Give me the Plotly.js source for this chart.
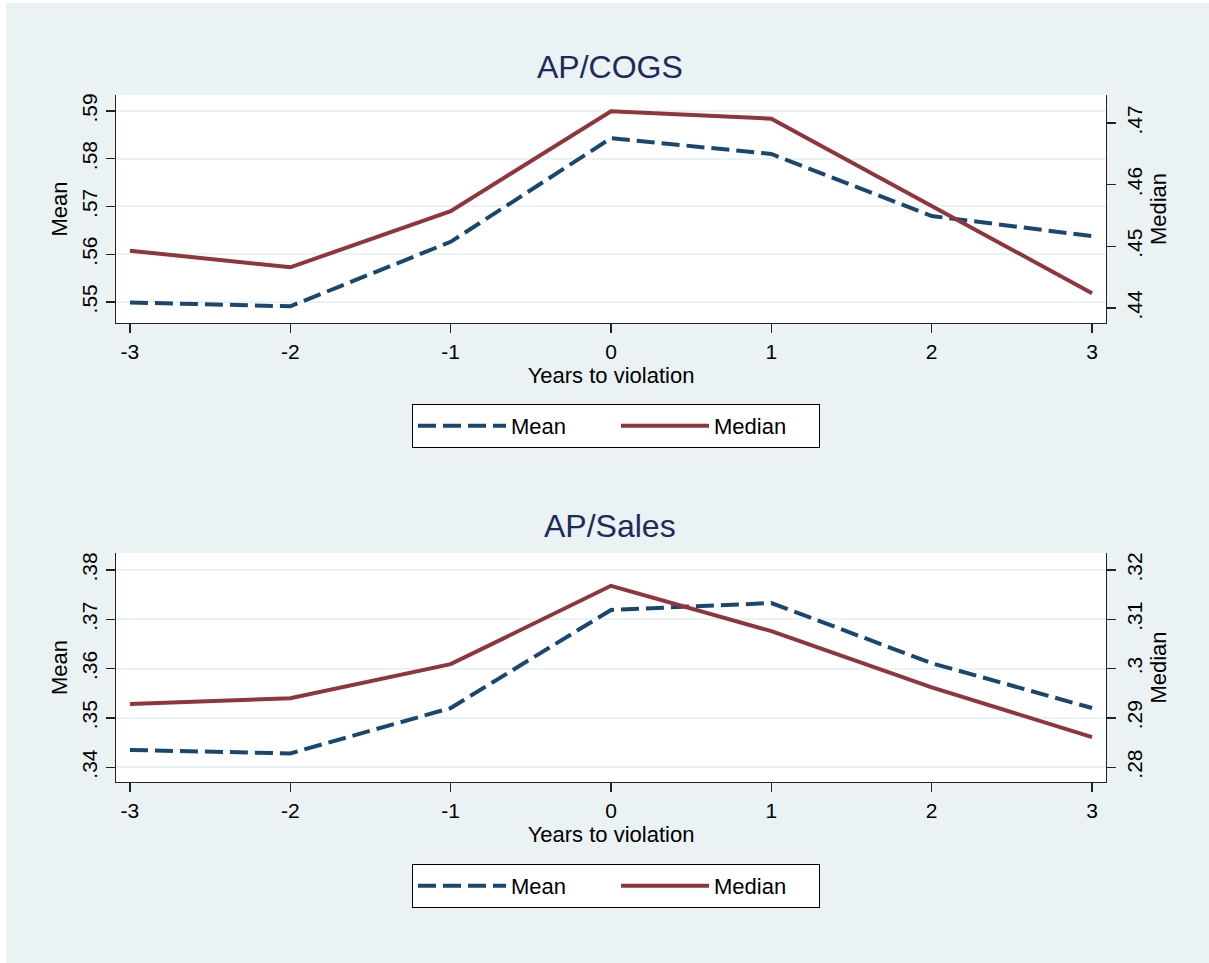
<!DOCTYPE html>
<html>
<head>
<meta charset="utf-8">
<script src="https://cdn.plot.ly/plotly-3.0.1.min.js"></script>
<style>
  html, body { margin: 0; padding: 0; background: #ffffff; }
  #chart { position: absolute; left: 6px; top: 3px; width: 1203px; height: 960px; }
</style>
</head>
<body>
<div id="chart"></div>
<script>
// ---- data ----
const years = [-3, -2, -1, 0, 1, 2, 3];
const xTickLabels = ["-3", "-2", "-1", "0", "1", "2", "3"];

const cogsMean   = [0.5499, 0.5491, 0.5626, 0.5843, 0.5810, 0.5680, 0.5638];
const cogsMedian = [0.4493, 0.4466, 0.4557, 0.4719, 0.4707, 0.4565, 0.4424];

const salesMean   = [0.3435, 0.3428, 0.3520, 0.3719, 0.3733, 0.3611, 0.3520];
const salesMedian = [0.2928, 0.2940, 0.3009, 0.3168, 0.3076, 0.2962, 0.2861];

const cogsMeanTicks = [0.55, 0.56, 0.57, 0.58, 0.59];
const cogsMeanTickLabels = [".55", ".56", ".57", ".58", ".59"];
const cogsMedianTicks = [0.44, 0.45, 0.46, 0.47];
const cogsMedianTickLabels = [".44", ".45", ".46", ".47"];
const salesMeanTicks = [0.34, 0.35, 0.36, 0.37, 0.38];
const salesMeanTickLabels = [".34", ".35", ".36", ".37", ".38"];
const salesMedianTicks = [0.28, 0.29, 0.30, 0.31, 0.32];
const salesMedianTickLabels = [".28", ".29", ".3", ".31", ".32"];

const panelTitles = ["AP/COGS", "AP/Sales"];
const xTitle = "Years to violation";
const seriesNames = ["Mean", "Median"];

// ---- styles ----
const FONT = "Liberation Sans, Arial, Helvetica, sans-serif";
const navy = "#1a476f";
const maroon = "#90353b";
const bg = "#eaf2f3";
const meanDash = "18px,7px";

function meanTrace(y, xa, ya, legend, showlegend) {
  return { x: years, y: y, xaxis: xa, yaxis: ya, type: "scatter", mode: "lines",
    name: seriesNames[0], legend: legend, showlegend: showlegend,
    line: { color: navy, width: 4, dash: meanDash } };
}
function medianTrace(y, xa, ya, legend, showlegend) {
  return { x: years, y: y, xaxis: xa, yaxis: ya, type: "scatter", mode: "lines",
    name: seriesNames[1], legend: legend, showlegend: showlegend,
    line: { color: maroon, width: 4 } };
}

const data = [
  meanTrace(cogsMean, "x", "y", "legend", true),
  medianTrace(cogsMedian, "x", "y2", "legend", true),
  meanTrace(salesMean, "x2", "y3", "legend2", true),
  medianTrace(salesMedian, "x2", "y4", "legend2", true)
];

const W = 1203, H = 960;
const xDom = [110 / W, 1100 / W];
const topDom = [(H - 320) / H, (H - 92) / H];
const botDom = [(H - 779) / H, (H - 550) / H];

function xAxis(anchor) {
  return {
    domain: xDom, anchor: anchor, range: [-3.087, 3.087],
    tickvals: years, ticktext: xTickLabels,
    ticks: "outside", ticklen: 9, tickwidth: 1.3, tickcolor: "#222",
    showline: true, linecolor: "#222", linewidth: 1.3, mirror: false,
    showgrid: false, zeroline: false,
    tickfont: { family: FONT, size: 21, color: "#000" },
    title: { text: xTitle, font: { family: FONT, size: 22, color: "#000" }, standoff: 2 },
    fixedrange: true
  };
}
function yLeft(domain, anchor, range, tv, tt) {
  return {
    domain: domain, anchor: anchor, range: range, side: "left",
    tickvals: tv, ticktext: tt, tickangle: -90,
    ticks: "outside", ticklen: 9, tickwidth: 1.3, tickcolor: "#222",
    showline: true, linecolor: "#222", linewidth: 1.3,
    showgrid: true, gridcolor: bg, gridwidth: 2, zeroline: false,
    tickfont: { family: FONT, size: 21, color: "#000" },
    title: { text: seriesNames[0], font: { family: FONT, size: 22, color: "#000" }, standoff: 4 },
    fixedrange: true
  };
}
function yRight(overlay, anchor, range, tv, tt) {
  return {
    overlaying: overlay, anchor: anchor, range: range, side: "right",
    tickvals: tv, ticktext: tt, tickangle: -90,
    ticks: "outside", ticklen: 9, tickwidth: 1.3, tickcolor: "#222",
    showline: true, linecolor: "#222", linewidth: 1.3,
    showgrid: false, zeroline: false,
    tickfont: { family: FONT, size: 21, color: "#000" },
    title: { text: seriesNames[1], font: { family: FONT, size: 22, color: "#000" }, standoff: 2 },
    fixedrange: true
  };
}

function legendCfg(yTop) {
  return {
    orientation: "h", x: 610 / W, xanchor: "center", y: yTop, yanchor: "top",
    bgcolor: "#ffffff", bordercolor: "#000", borderwidth: 1,
    font: { family: FONT, size: 22, color: "#000" },
    entrywidth: 100, itemwidth: 88, traceorder: "normal"
  };
}

const layout = {
  width: W, height: H,
  margin: { l: 0, r: 0, t: 0, b: 0 },
  paper_bgcolor: bg, plot_bgcolor: "#ffffff",
  font: { family: FONT, color: "#000" },
  xaxis: xAxis("y"),
  yaxis: yLeft(topDom, "x", [0.5456, 0.59335], cogsMeanTicks, cogsMeanTickLabels),
  yaxis2: yRight("y", "x", [0.43757, 0.47454], cogsMedianTicks, cogsMedianTickLabels),
  xaxis2: xAxis("y3"),
  yaxis3: yLeft(botDom, "x2", [0.3370, 0.38345], salesMeanTicks, salesMeanTickLabels),
  yaxis4: yRight("y3", "x2", [0.2770, 0.32345], salesMedianTicks, salesMedianTickLabels),
  legend: legendCfg((H - 401) / H),
  legend2: legendCfg((H - 861) / H),
  annotations: [
    { text: panelTitles[0], xref: "paper", yref: "paper", x: 604 / W, y: (H - 64) / H,
      xanchor: "center", yanchor: "middle", showarrow: false,
      font: { family: FONT, size: 32, color: "#1c2a5c" } },
    { text: panelTitles[1], xref: "paper", yref: "paper", x: 604 / W, y: (H - 523) / H,
      xanchor: "center", yanchor: "middle", showarrow: false,
      font: { family: FONT, size: 32, color: "#1c2a5c" } }
  ],
  showlegend: true
};

Plotly.newPlot("chart", data, layout, { displayModeBar: false, staticPlot: true });
</script>
</body>
</html>
